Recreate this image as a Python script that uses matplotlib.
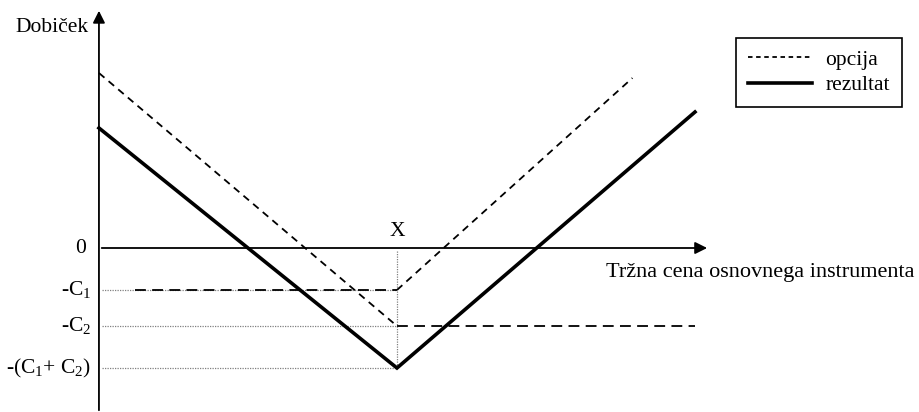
import matplotlib.pyplot as plt
from matplotlib.lines import Line2D

plt.rcParams['font.family'] = ['Liberation Serif', 'DejaVu Serif']
plt.rcParams['mathtext.fontset'] = 'custom'
plt.rcParams['mathtext.rm'] = 'Liberation Serif'
plt.rcParams['mathtext.it'] = 'Liberation Serif:italic'

# podatki (cena osnovnega instrumenta, dobiček)
X = 100
C1 = 16.8
C2 = 31.2
C12 = 48.0

put_x = [0, X]
put_y = [70, -C2]
call_x = [X, 179]
call_y = [-C1, 68]
res_x = [0, X, 200]
res_y = [48, -C12, 54.4]
c1_x = [12, X]
c2_x = [X, 200]

y_labels = ['0', r'-C$_\mathrm{1}$', r'-C$_\mathrm{2}$', r'-(C$_\mathrm{1}$+ C$_\mathrm{2}$)']
y_vals = [0, -C1, -C2, -C12]
y_offs = [-4.5, -2.5, -2.5, -2.5]

fig = plt.figure(figsize=(9.2, 4.12), dpi=100)
ax = fig.add_axes([0, 0, 1, 1])
ax.set_xlim(-33.2, 275.5)
ax.set_ylim(-65.6, 99.2)
ax.axis('off')

# osi
ax.annotate('', xy=(0, 96), xytext=(0, -66),
            arrowprops=dict(arrowstyle='-|>', color='black', lw=1.3, mutation_scale=18))
ax.annotate('', xy=(205, 0), xytext=(0, 0),
            arrowprops=dict(arrowstyle='-|>', color='black', lw=1.3, mutation_scale=18))

# pomožne pikčaste črte
dot = dict(color='gray', lw=0.9, ls=(0, (1, 1)))
ax.plot([1, X], [-C1, -C1], **dot)
ax.plot([1, X], [-C2, -C2], **dot)
ax.plot([1, X], [-C12, -C12], **dot)
ax.plot([X, X], [-1, -C12], **dot)

# opcije
opt = dict(color='black', lw=1.3, ls=(0, (4, 3)))
ax.plot(put_x, put_y, **opt)
ax.plot(call_x, call_y, **opt)
ax.plot(c1_x, [-C1, -C1], color='black', lw=1.3, ls=(0, (6, 3.5)))
ax.plot(c2_x, [-C2, -C2], color='black', lw=1.3, ls=(0, (6, 3.5)))

# rezultat
ax.plot(res_x, res_y, color='black', lw=2.6, solid_joinstyle='miter')

for lab, v, o in zip(y_labels, y_vals, y_offs):
    ax.text(o, v, lab, ha='right', va='center', fontsize=15.5)

ax.text(-3.5, 88, 'Dobiček', ha='right', va='center', fontsize=15.5)
ax.text(X, 6.5, 'X', ha='center', va='center', fontsize=15.5)
ax.text(170, -9.6, 'Tržna cena osnovnega instrumenta', ha='left', va='center', fontsize=16)

handles = [Line2D([], [], color='black', lw=1.3, ls=(0, (2.5, 2))),
           Line2D([], [], color='black', lw=2.6)]
leg = ax.legend(handles, ['opcija', 'rezultat'], loc='upper left',
                bbox_to_anchor=(736 / 920, 1 - 38 / 412), fancybox=False,
                edgecolor='black', fontsize=15.5, handlelength=3.0,
                handletextpad=0.6, borderpad=0.55, labelspacing=0.25,
                borderaxespad=0, framealpha=1)
leg.get_frame().set_linewidth(1.2)

fig.savefig('out.png', dpi=100)
